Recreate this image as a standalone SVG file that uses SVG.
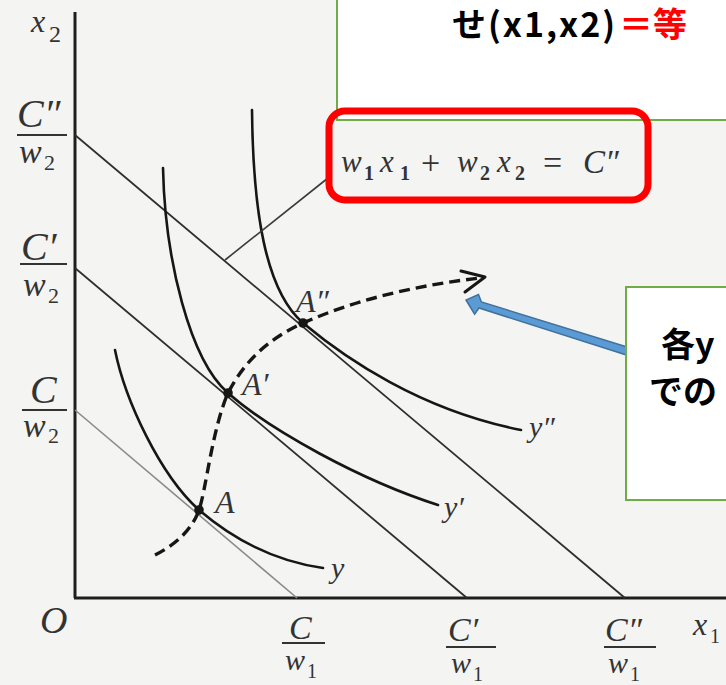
<svg xmlns="http://www.w3.org/2000/svg" width="726" height="685" viewBox="0 0 726 685">
<defs>
<style>
.bg{fill:#f4f4f2}
.axis{stroke:#1e1e1e;stroke-width:3;fill:none}
.budget{stroke:#2e2e2e;stroke-width:1.8;fill:none}
.budget-light{stroke:#8a8a8a;stroke-width:1.6;fill:none}
.curve{stroke:#161616;stroke-width:2.6;fill:none;stroke-linecap:round}
.dash{stroke:#161616;stroke-width:3.4;fill:none;stroke-dasharray:11 6}
.head{stroke:#161616;stroke-width:3;fill:none;stroke-linecap:round;stroke-linejoin:round}
.dot{fill:#161616}
.leader{stroke:#3a3a3a;stroke-width:1.6;fill:none}
.bar{stroke:#333;stroke-width:2}
.m{font-family:"Liberation Serif","Times New Roman",serif;font-style:italic;fill:#333}
.n{font-family:"Liberation Serif","Times New Roman",serif;font-style:normal;fill:#333}
.greenbox{fill:#ffffff;stroke:#70AD47;stroke-width:2}
.redbox{fill:none;stroke:#FF0000;stroke-width:7}
.jp{font-family:"Noto Sans CJK JP","Noto Sans",sans-serif;font-weight:700;fill:#000}
.red{fill:#FF0000}
.blue{fill:#5B9BD5;stroke:#41719C;stroke-width:1.5;stroke-linejoin:miter}
</style>
</defs>
<rect class="bg" x="0" y="0" width="726" height="685"/>

<g id="axes">
<line class="axis" x1="75" y1="12" x2="75" y2="598"/>
<line class="axis" x1="74" y1="598" x2="726" y2="598"/>
</g>

<g id="budget-lines">
<line class="budget" x1="75" y1="135" x2="625" y2="598"/>
<line class="budget" x1="75" y1="268" x2="467" y2="598"/>
<line class="budget-light" x1="75" y1="410" x2="297" y2="598"/>
</g>

<g id="indifference-curves">
<path id="curve-y2" class="curve" d="M252,110 C253,210 265,290 303,323 C345,358 420,410 521,430"/>
<path id="curve-y1" class="curve" d="M163,168 C165,260 190,360 228,393 C270,430 360,480 438,505"/>
<path id="curve-y0" class="curve" d="M115,350 C125,400 160,475 199,510 C240,545 280,562 323,568"/>
</g>

<g id="expansion-path">
<path class="dash" d="M155,555 C175,545 192,530 199,510 C206,490 212,430 228,393 C245,360 270,338 303,323 C360,298 420,285 480,278"/>
<path class="head" d="M461,271 L485,277 L465,292"/>
</g>

<g id="points">
<circle id="A" class="dot" cx="199" cy="510" r="4.8"/>
<circle id="A1" class="dot" cx="228" cy="393" r="4.8"/>
<circle id="A2" class="dot" cx="303" cy="323" r="4.8"/>
</g>

<g id="labels">
<text class="m" x="31" y="32" font-size="32">x</text>
<text class="n" x="49" y="42" font-size="24">2</text>

<text class="m" x="17" y="127" font-size="40">C″</text>
<line class="bar" x1="17" y1="135" x2="67" y2="135"/>
<text class="m" x="19" y="163" font-size="34">w</text>
<text class="n" x="44" y="170" font-size="22">2</text>

<text class="m" x="21" y="260" font-size="40">C′</text>
<line class="bar" x1="20" y1="264" x2="67" y2="264"/>
<text class="m" x="23" y="296" font-size="34">w</text>
<text class="n" x="48" y="303" font-size="22">2</text>

<text class="m" x="30" y="403" font-size="40">C</text>
<line class="bar" x1="22" y1="410" x2="67" y2="410"/>
<text class="m" x="23" y="437" font-size="34">w</text>
<text class="n" x="48" y="443" font-size="22">2</text>

<text class="m" x="40" y="633" font-size="38">O</text>

<text class="m" x="289" y="639" font-size="34">C</text>
<line class="bar" x1="282" y1="643" x2="325" y2="643"/>
<text class="m" x="285" y="670" font-size="30">w</text>
<text class="n" x="307" y="678" font-size="20">1</text>

<text class="m" x="448" y="641" font-size="34">C′</text>
<line class="bar" x1="446" y1="647" x2="496" y2="647"/>
<text class="m" x="451" y="673" font-size="30">w</text>
<text class="n" x="473" y="681" font-size="20">1</text>

<text class="m" x="605" y="641" font-size="34">C″</text>
<line class="bar" x1="604" y1="647" x2="656" y2="647"/>
<text class="m" x="608" y="673" font-size="30">w</text>
<text class="n" x="630" y="681" font-size="20">1</text>

<text class="m" x="693" y="635" font-size="32">x</text>
<text class="n" x="710" y="643" font-size="20">1</text>

<text class="m" x="215" y="513" font-size="32">A</text>
<text class="m" x="242" y="395" font-size="32">A′</text>
<text class="m" x="296" y="312" font-size="32">A″</text>

<text class="m" x="331" y="578" font-size="30">y</text>
<text class="m" x="444" y="517" font-size="30">y′</text>
<text class="m" x="529" y="437" font-size="30">y″</text>
</g>

<g id="connectors">
<line id="leader" class="leader" x1="225" y1="260" x2="328" y2="178"/>
<polygon id="blue-arrow" class="blue" points="631.2,348.2 481.4,302.0 478.5,294.6 466,300 474.6,314.2 479.0,308.0 628.8,355.8"/>
</g>

<g id="box-top">
<rect class="greenbox" x="337" y="-5" width="400" height="125"/>
<text class="jp" font-size="34" x="452" y="37"><tspan letter-spacing="2">せ(x1,x2)</tspan><tspan class="red" dx="2">＝等</tspan></text>
</g>

<g id="box-eq">
<rect class="redbox" x="329" y="111" width="319" height="89" rx="16"/>
<text class="m" x="341" y="172" font-size="31">w</text>
<text class="n" x="364" y="180" font-size="20" font-weight="bold">1</text>
<text class="m" x="380" y="172" font-size="31">x</text>
<text class="n" x="400" y="180" font-size="20" font-weight="bold">1</text>
<text class="n" x="421" y="174" font-size="34">+</text>
<text class="m" x="457" y="172" font-size="31">w</text>
<text class="n" x="480" y="180" font-size="20" font-weight="bold">2</text>
<text class="m" x="497" y="172" font-size="31">x</text>
<text class="n" x="515" y="180" font-size="20" font-weight="bold">2</text>
<text class="n" x="543" y="174" font-size="34">=</text>
<text class="m" x="583" y="173" font-size="33">C″</text>
</g>

<g id="box-right">
<rect class="greenbox" x="626" y="287" width="120" height="213"/>
<text class="jp" x="661" y="357" font-size="34">各y</text>
<text class="jp" x="649" y="404" font-size="34">での</text>
</g>
</svg>
